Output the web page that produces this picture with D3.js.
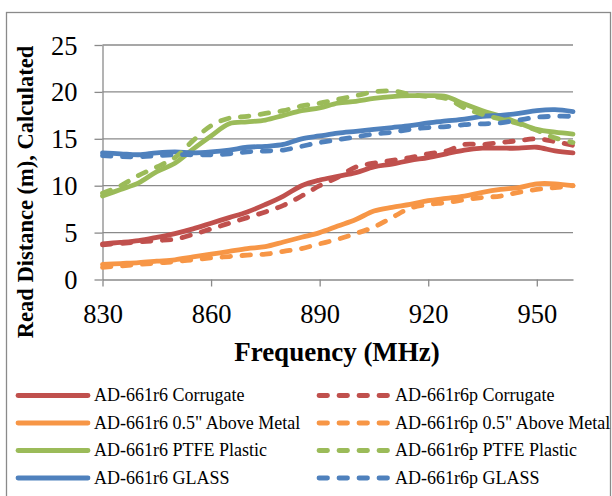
<!DOCTYPE html>
<html>
<head>
<meta charset="utf-8">
<script src="https://cdn.jsdelivr.net/npm/d3@7"></script>
<style>
  body { margin: 0; background: #fff; }
  svg { display: block; }
</style>
</head>
<body>
<div id="chart"></div>
<script>
// frequency (MHz), every 5 MHz
var freqs = [830, 835, 840, 845, 850, 855, 860, 865, 870, 875, 880, 885, 890, 895,
             900, 905, 910, 915, 920, 925, 930, 935, 940, 945, 950, 955, 960];

// read distance (m)
var r6Corrugate  = [3.8, 3.95, 4.15, 4.5, 4.9, 5.4, 6.0, 6.6, 7.2, 8.0, 8.9, 10.0, 10.6, 11.0,
                    11.4, 12.0, 12.3, 12.7, 13.0, 13.4, 13.8, 14.0, 14.0, 14.0, 14.1, 13.7, 13.5];
var r6Metal      = [1.6, 1.7, 1.8, 1.95, 2.1, 2.4, 2.7, 3.0, 3.3, 3.5, 4.0, 4.5, 5.0, 5.7,
                    6.4, 7.3, 7.7, 8.0, 8.4, 8.65, 8.9, 9.3, 9.6, 9.8, 10.2, 10.2, 10.0];
var r6Ptfe       = [8.9, 9.6, 10.3, 11.5, 12.4, 13.9, 15.3, 16.6, 16.8, 17.0, 17.5, 18.0, 18.3, 18.8,
                    19.0, 19.3, 19.5, 19.6, 19.6, 19.5, 18.7, 18.0, 17.4, 16.7, 16.0, 15.7, 15.5];
var r6Glass      = [13.5, 13.4, 13.3, 13.5, 13.6, 13.5, 13.6, 13.8, 14.1, 14.2, 14.4, 15.0, 15.3, 15.6,
                    15.8, 16.0, 16.2, 16.4, 16.7, 16.9, 17.1, 17.4, 17.5, 17.7, 18.0, 18.1, 17.9];
var r6pCorrugate = [3.7, 3.85, 4.0, 4.15, 4.3, 4.8, 5.4, 6.0, 6.6, 7.2, 7.9, 8.9, 10.0, 10.9,
                    12.0, 12.4, 12.7, 13.0, 13.4, 13.7, 14.4, 14.4, 14.6, 14.8, 15.0, 14.7, 14.3];
var r6pMetal     = [1.3, 1.45, 1.6, 1.75, 1.9, 2.1, 2.3, 2.45, 2.6, 2.7, 3.0, 3.3, 3.8, 4.3,
                    4.9, 5.6, 6.6, 7.6, 8.0, 8.2, 8.5, 8.75, 8.9, 9.3, 9.6, 9.8, 10.0];
var r6pPtfe      = [9.2, 10.0, 11.1, 12.0, 13.0, 14.8, 16.4, 17.2, 17.4, 17.7, 18.0, 18.5, 18.8, 19.2,
                    19.6, 20.0, 20.1, 19.75, 19.5, 19.3, 18.3, 17.6, 17.1, 16.6, 15.9, 15.1, 14.6];
var r6pGlass     = [13.2, 13.1, 13.1, 13.2, 13.3, 13.3, 13.3, 13.4, 13.6, 13.7, 13.8, 14.2, 14.6, 14.9,
                    15.2, 15.5, 15.7, 16.0, 16.2, 16.3, 16.5, 16.6, 16.7, 17.0, 17.3, 17.4, 17.4];

var xTicks = [830, 860, 890, 920, 950];
var yTicks = [0, 5, 10, 15, 20, 25];

var series = [
  {name: "AD-661r6 Corrugate",          values: r6Corrugate,  color: "#C0504D", dashed: false},
  {name: "AD-661r6 0.5\" Above Metal",  values: r6Metal,      color: "#F79646", dashed: false},
  {name: "AD-661r6 PTFE Plastic",       values: r6Ptfe,       color: "#9BBB59", dashed: false},
  {name: "AD-661r6 GLASS",              values: r6Glass,      color: "#4F81BD", dashed: false},
  {name: "AD-661r6p Corrugate",         values: r6pCorrugate, color: "#C0504D", dashed: true},
  {name: "AD-661r6p 0.5\" Above Metal", values: r6pMetal,     color: "#F79646", dashed: true},
  {name: "AD-661r6p PTFE Plastic",      values: r6pPtfe,      color: "#9BBB59", dashed: true},
  {name: "AD-661r6p GLASS",             values: r6pGlass,     color: "#4F81BD", dashed: true}
];

var width = 612, height = 496;
var serif = "'Liberation Serif', 'DejaVu Serif', serif";
var grey = "#8a8a8a";

var svg = d3.select("#chart").append("svg")
    .attr("width", width)
    .attr("height", height);

// chart area border
svg.append("rect")
    .attr("x", 6.5).attr("y", 12.5)
    .attr("width", 604).attr("height", 500)
    .attr("fill", "none")
    .attr("stroke", grey)
    .attr("stroke-width", 1.3);

var x = d3.scaleLinear().domain([830, 960]).range([102.5, 573]);
var y = d3.scaleLinear().domain([0, 25]).range([279.5, 45]);

// gridlines
svg.append("g").selectAll("line")
    .data(yTicks.slice(1))
    .enter().append("line")
    .attr("x1", x(830)).attr("x2", x(960))
    .attr("y1", function(d) { return y(d); })
    .attr("y2", function(d) { return y(d); })
    .attr("stroke", grey)
    .attr("stroke-width", 1.3);

var yAxis = svg.append("g")
    .attr("transform", "translate(" + x(830) + ",0)")
    .call(d3.axisLeft(y).tickValues(yTicks).tickSize(8).tickSizeOuter(0).tickPadding(17));

var xAxis = svg.append("g")
    .attr("transform", "translate(0," + y(0) + ")")
    .call(d3.axisBottom(x).tickValues(xTicks).tickSize(7).tickSizeOuter(0).tickPadding(17));

[xAxis, yAxis].forEach(function(ax) {
  ax.selectAll("path, line").attr("stroke", grey).attr("stroke-width", 1.3);
  ax.selectAll("text")
    .attr("fill", "#000")
    .style("font-family", serif)
    .style("font-size", "26.5px");
});
yAxis.selectAll("text").attr("dy", "0.34em");
xAxis.selectAll("text").attr("dy", "0.72em");

// axis titles
svg.append("text")
    .attr("x", 337).attr("y", 361)
    .attr("text-anchor", "middle")
    .style("font-family", serif)
    .style("font-size", "27px")
    .style("font-weight", "bold")
    .text("Frequency (MHz)");

svg.append("text")
    .attr("transform", "translate(33,192) rotate(-90)")
    .attr("text-anchor", "middle")
    .style("font-family", serif)
    .style("font-size", "22.5px")
    .style("font-weight", "bold")
    .text("Read Distance (m), Calculated");

// lines
var line = d3.line()
    .x(function(d) { return x(d[0]); })
    .y(function(d) { return y(d[1]); })
    .curve(d3.curveCatmullRom.alpha(0.5));

svg.append("g").selectAll("path")
    .data(series)
    .enter().append("path")
    .attr("d", function(s) {
      return line(freqs.map(function(f, i) { return [f, s.values[i]]; }));
    })
    .attr("fill", "none")
    .attr("stroke", function(s) { return s.color; })
    .attr("stroke-width", 4.8)
    .attr("stroke-linecap", "round")
    .attr("stroke-linejoin", "round")
    .attr("stroke-dasharray", function(s) { return s.dashed ? "8.5,11.5" : null; });

// legend: two columns, four rows
var legend = svg.append("g").selectAll("g")
    .data(series)
    .enter().append("g")
    .attr("transform", function(s, i) {
      var col = Math.floor(i / 4), row = i % 4;
      return "translate(" + (col ? 319 : 18) + "," + (395.5 + row * 27.5) + ")";
    });

legend.append("line")
    .attr("x1", 0).attr("x2", 70)
    .attr("stroke", function(s) { return s.color; })
    .attr("stroke-width", 4.8)
    .attr("stroke-linecap", "round")
    .attr("stroke-dasharray", function(s) { return s.dashed ? "8.5,11.5" : null; });

legend.append("text")
    .attr("x", 76)
    .attr("dy", "0.33em")
    .style("font-family", serif)
    .style("font-size", "18px")
    .text(function(s) { return s.name; });
</script>
</body>
</html>
